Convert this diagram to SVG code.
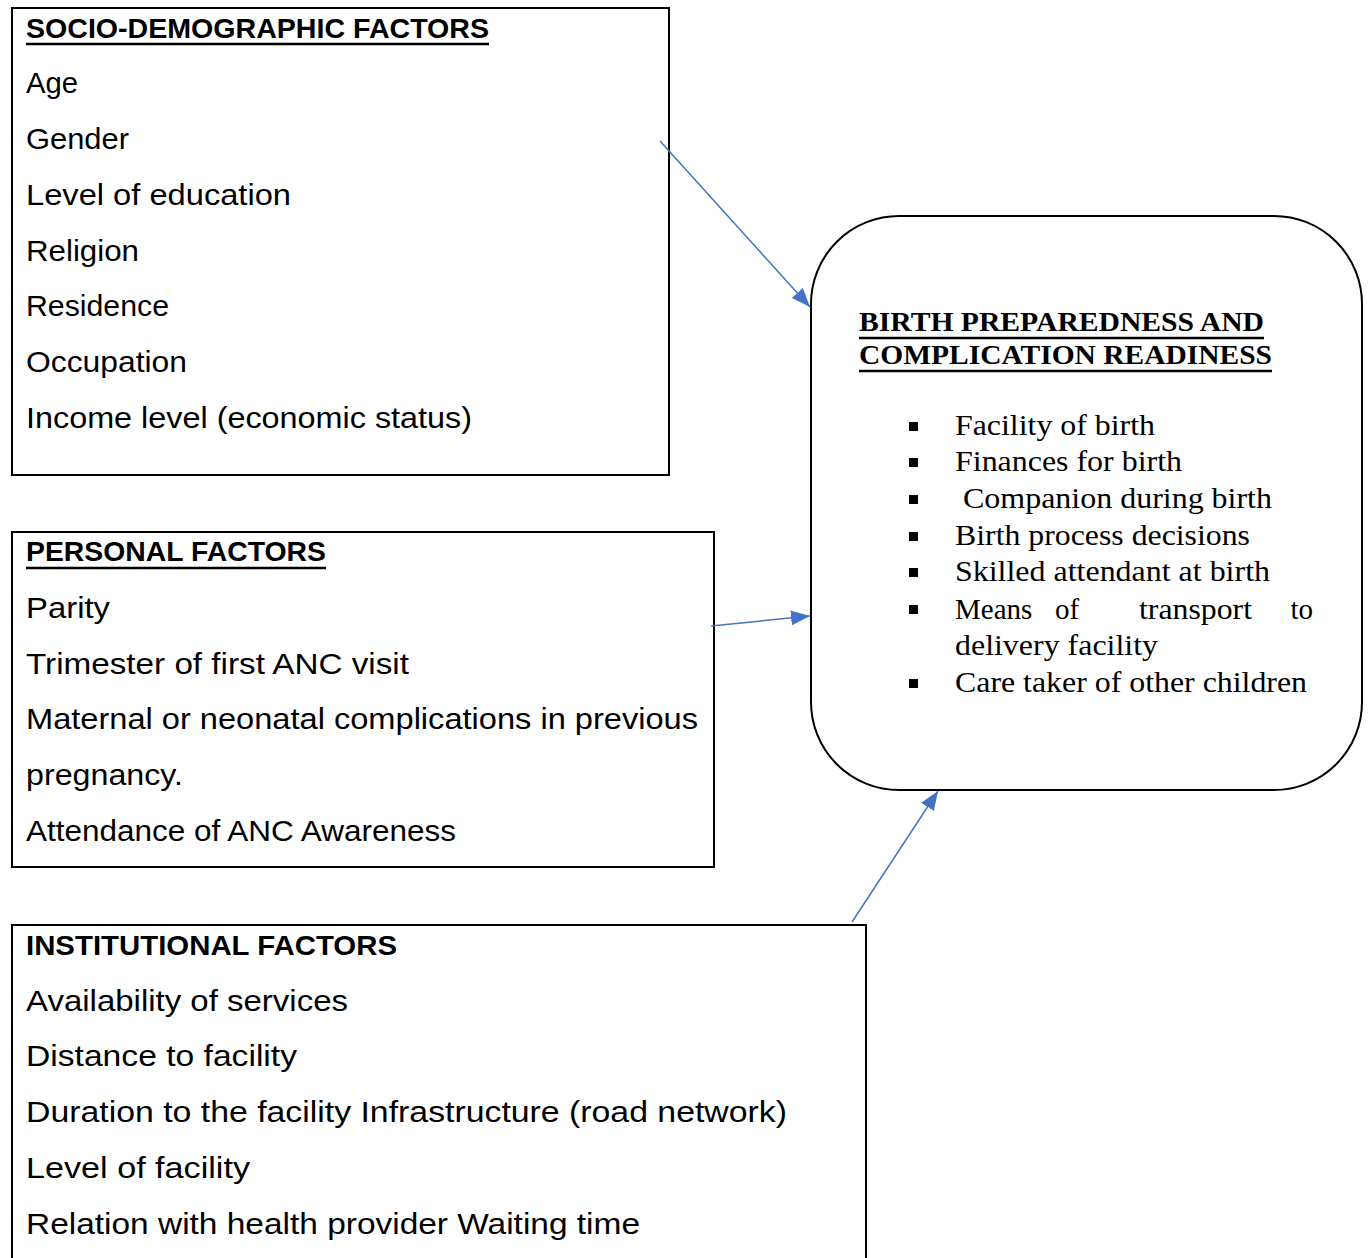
<svg xmlns="http://www.w3.org/2000/svg" width="1368" height="1258" viewBox="0 0 1368 1258">
<defs>
<marker id="ah" viewBox="0 0 10 10" refX="10" refY="5" markerWidth="19" markerHeight="15" orient="auto" markerUnits="userSpaceOnUse" preserveAspectRatio="none">
<path d="M0,0 L10,5 L0,10 z" fill="#4472C4"/>
</marker>
<style>
.box{fill:#fff;stroke:#000;stroke-width:2}
.s{font-family:"Liberation Sans",Arial,sans-serif;font-size:29px;fill:#000}
.h{font-weight:bold;font-size:28px}
.u{stroke:#000;stroke-width:2.5}
.r{font-family:"Liberation Serif","Times New Roman",serif;font-size:29px;fill:#000}
.rb{font-family:"Liberation Serif","Times New Roman",serif;font-size:27px;font-weight:bold;fill:#000}
.b{fill:#000}
.c{stroke:#4472C4;stroke-width:1.5;fill:none}
</style>
</defs>
<rect width="1368" height="1258" fill="#fff"/>

<g id="socio">
<rect class="box" x="12" y="8" width="657" height="467"/>
<text class="s h" x="26" y="38" textLength="463" lengthAdjust="spacingAndGlyphs">SOCIO-DEMOGRAPHIC FACTORS</text>
<line class="u" x1="26" y1="44" x2="489" y2="44"/>
<text class="s" x="26" y="93" textLength="52" lengthAdjust="spacingAndGlyphs">Age</text>
<text class="s" x="26" y="149" textLength="103" lengthAdjust="spacingAndGlyphs">Gender</text>
<text class="s" x="26" y="205" textLength="265" lengthAdjust="spacingAndGlyphs">Level of education</text>
<text class="s" x="26" y="261" textLength="113" lengthAdjust="spacingAndGlyphs">Religion</text>
<text class="s" x="26" y="316" textLength="143" lengthAdjust="spacingAndGlyphs">Residence</text>
<text class="s" x="26" y="372" textLength="161" lengthAdjust="spacingAndGlyphs">Occupation</text>
<text class="s" x="26" y="428" textLength="446" lengthAdjust="spacingAndGlyphs">Income level (economic status)</text>
</g>

<g id="personal">
<rect class="box" x="12" y="532" width="702" height="335"/>
<text class="s h" x="26" y="561" textLength="300" lengthAdjust="spacingAndGlyphs">PERSONAL FACTORS</text>
<line class="u" x1="26" y1="568" x2="326" y2="568"/>
<text class="s" x="26" y="618" textLength="84" lengthAdjust="spacingAndGlyphs">Parity</text>
<text class="s" x="26" y="674" textLength="383" lengthAdjust="spacingAndGlyphs">Trimester of first ANC visit</text>
<text class="s" x="26" y="729" textLength="672" lengthAdjust="spacingAndGlyphs">Maternal or neonatal complications in previous</text>
<text class="s" x="26" y="785" textLength="157" lengthAdjust="spacingAndGlyphs">pregnancy.</text>
<text class="s" x="26" y="841" textLength="430" lengthAdjust="spacingAndGlyphs">Attendance of ANC Awareness</text>
</g>

<g id="institutional">
<rect class="box" x="12" y="925" width="854" height="345"/>
<text class="s h" x="26" y="955" textLength="371" lengthAdjust="spacingAndGlyphs">INSTITUTIONAL FACTORS</text>
<text class="s" x="26" y="1011" textLength="322" lengthAdjust="spacingAndGlyphs">Availability of services</text>
<text class="s" x="26" y="1066" textLength="271" lengthAdjust="spacingAndGlyphs">Distance to facility</text>
<text class="s" x="26" y="1122" textLength="761" lengthAdjust="spacingAndGlyphs">Duration to the facility Infrastructure (road network)</text>
<text class="s" x="26" y="1178" textLength="224" lengthAdjust="spacingAndGlyphs">Level of facility</text>
<text class="s" x="26" y="1234" textLength="614" lengthAdjust="spacingAndGlyphs">Relation with health provider Waiting time</text>
</g>

<g id="bpcr">
<rect class="box" x="811" y="216" width="551" height="574" rx="88" ry="88"/>
<text class="rb" x="859" y="331" textLength="405" lengthAdjust="spacingAndGlyphs">BIRTH PREPAREDNESS AND</text>
<line class="u" x1="859" y1="338" x2="1264" y2="338"/>
<text class="rb" x="859" y="364" textLength="413" lengthAdjust="spacingAndGlyphs">COMPLICATION READINESS</text>
<line class="u" x1="859" y1="371" x2="1272" y2="371"/>
<rect class="b" x="909" y="422" width="9" height="9"/>
<text class="r" x="955" y="435" textLength="200" lengthAdjust="spacingAndGlyphs">Facility of birth</text>
<rect class="b" x="909" y="458" width="9" height="9"/>
<text class="r" x="955" y="471" textLength="227" lengthAdjust="spacingAndGlyphs">Finances for birth</text>
<rect class="b" x="909" y="495" width="9" height="9"/>
<text class="r" x="963" y="508" textLength="309" lengthAdjust="spacingAndGlyphs">Companion during birth</text>
<rect class="b" x="909" y="532" width="9" height="9"/>
<text class="r" x="955" y="545" textLength="295" lengthAdjust="spacingAndGlyphs">Birth process decisions</text>
<rect class="b" x="909" y="568" width="9" height="9"/>
<text class="r" x="955" y="581" textLength="315" lengthAdjust="spacingAndGlyphs">Skilled attendant at birth</text>
<rect class="b" x="909" y="605" width="9" height="9"/>
<text class="r" x="955" y="619">Means</text>
<text class="r" x="1055" y="619">of</text>
<text class="r" x="1139" y="619" textLength="113" lengthAdjust="spacingAndGlyphs">transport</text>
<text class="r" x="1313" y="619" text-anchor="end">to</text>
<text class="r" x="955" y="655" textLength="203" lengthAdjust="spacingAndGlyphs">delivery facility</text>
<rect class="b" x="909" y="679" width="9" height="9"/>
<text class="r" x="955" y="692" textLength="352" lengthAdjust="spacingAndGlyphs">Care taker of other children</text>
</g>

<g id="connectors">
<line class="c" x1="660" y1="141" x2="810" y2="307" marker-end="url(#ah)"/>
<line class="c" x1="711" y1="626" x2="810" y2="616" marker-end="url(#ah)"/>
<line class="c" x1="852" y1="922" x2="938" y2="791" marker-end="url(#ah)"/>
</g>
</svg>
